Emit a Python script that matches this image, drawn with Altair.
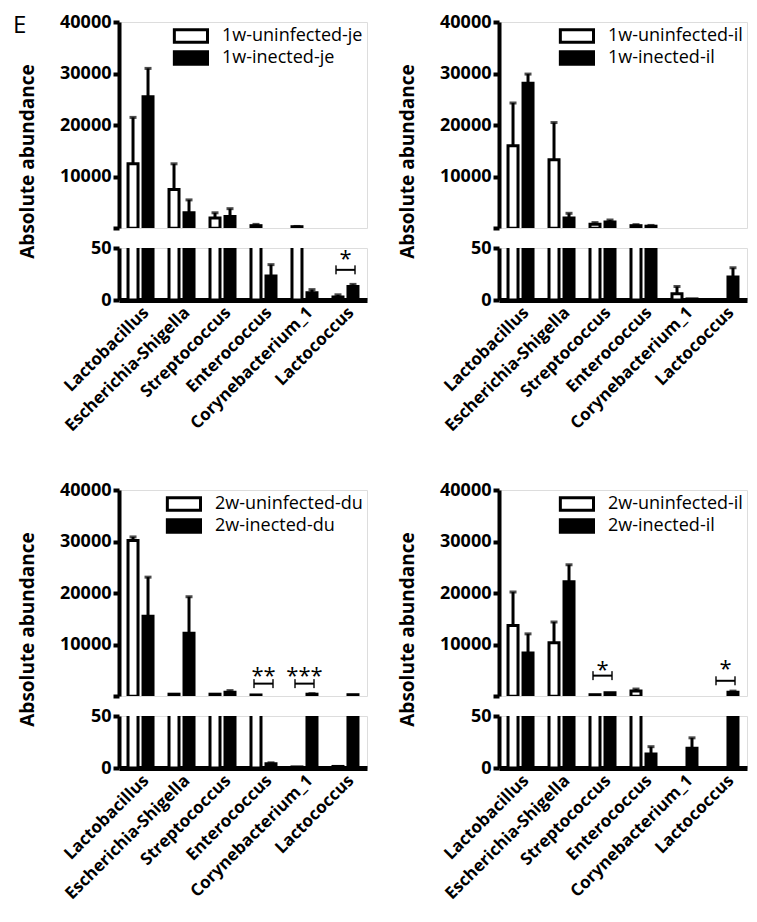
import altair as alt
import pandas as pd

categories = ["Lactobacillus", "Escherichia-Shigella", "Streptococcus",
              "Enterococcus", "Corynebacterium_1", "Lactococcus"]

panel_names = [
    ("1w-uninfected-je", "1w-inected-je"),
    ("1w-uninfected-il", "1w-inected-il"),
    ("2w-uninfected-du", "2w-inected-du"),
    ("2w-uninfected-il", "2w-inected-il"),
]

# means and upper ends of the error bars (uninfected, infected)
p1_uninf = [12500, 7500, 2000, 500, 300, 3]
p1_uninf_up = [21500, 12500, 3000, 750, 350, 5]
p1_inf = [25500, 3000, 2300, 23, 7, 13]
p1_inf_up = [31000, 5500, 3800, 34, 10, 15]

p2_uninf = [16000, 13300, 800, 500, 6, 0]
p2_uninf_up = [24300, 20500, 1100, 700, 13, 0]
p2_inf = [28100, 2000, 1200, 400, 1, 22]
p2_inf_up = [29900, 2900, 1600, 550, 1, 31]

p3_uninf = [30200, 400, 400, 250, 1, 1.5]
p3_uninf_up = [30900, 400, 400, 250, 1, 1.5]
p3_inf = [15500, 12200, 800, 4, 400, 300]
p3_inf_up = [23100, 19300, 1100, 5, 500, 300]

p4_uninf = [13700, 10400, 300, 1000, 0, 0]
p4_uninf_up = [20200, 14400, 300, 1400, 0, 0]
p4_inf = [8400, 22200, 700, 13.5, 19, 800]
p4_inf_up = [12100, 25500, 700, 20.5, 29, 1000]

# significance marks: category, segment, bracket height, star height, label
p1_sig = [("Lactococcus", "low", 29, 39, "*")]
p2_sig = []
p3_sig = [("Enterococcus", "high", 2450, 4000, "**"),
          ("Corynebacterium_1", "high", 2450, 4000, "***")]
p4_sig = [("Streptococcus", "high", 4000, 5000, "*"),
          ("Lactococcus", "high", 3000, 5200, "*")]

FONT = "Open Sans"
W = 248
H_TOP = 206
H_BOT = 52
GAP = 20
BREAK = 50
BAR_W = 10      # bar width (plus a 3px outline)
DODGE = 7.5     # half distance between the two bars of a pair


def make_df(uninf, uninf_up, inf, inf_up, names):
    rows = []
    for i, c in enumerate(categories):
        rows.append(dict(cat=c, grp=names[0], v=uninf[i], up=uninf_up[i]))
        rows.append(dict(cat=c, grp=names[1], v=inf[i], up=inf_up[i]))
    return pd.DataFrame(rows)


x_scale = alt.Scale(type="band", domain=categories, paddingInner=0.39, paddingOuter=0.22)


def xenc(axis, band=None):
    kw = dict(sort=categories, scale=x_scale, axis=axis, title=None)
    if band is not None:
        kw["bandPosition"] = band
    return alt.X("cat:N", **kw)


def fill_enc(names, legend):
    return alt.Fill("grp:N", sort=list(names),
                    scale=alt.Scale(domain=list(names), range=["white", "black"]),
                    legend=legend)


y_axis_common = dict(labelFont=FONT, labelFontSize=18, labelFontWeight="bold",
                     labelColor="black", labelPadding=2, domainColor="black",
                     domainWidth=4, tickColor="black", tickWidth=4, tickSize=6,
                     grid=False, format="d")

top_scale = alt.Scale(domain=[BREAK, 40000], nice=False, zero=False)
bot_scale = alt.Scale(domain=[0, BREAK], nice=False)

top_axis = alt.Axis(values=[BREAK, 10000, 20000, 30000, 40000],
                    labelExpr="datum.value < 100 ? '' : datum.label",
                    title="Absolute abundance", titleY=(H_TOP + GAP + H_BOT) / 2,
                    titleFont=FONT, titleFontSize=19, titleFontWeight="bold",
                    titleColor="black", titlePadding=22, **y_axis_common)
bot_axis = alt.Axis(values=[0, BREAK], title=None, **y_axis_common)

x_bot_axis = alt.Axis(labelAngle=-45, labelFont=FONT, labelFontSize=17,
                      labelFontWeight="bold", labelColor="black", ticks=False,
                      domainWidth=5, domainColor="black", labelPadding=4,
                      labelLimit=300)


def legend_for():
    return alt.Legend(title=None, orient="top-right", offset=4,
                      symbolType="M-0.9,-0.74H3V0.74H-0.9Z", symbolSize=289,
                      symbolStrokeColor="black", symbolStrokeWidth=3,
                      labelFont=FONT, labelFontSize=18, labelColor="black",
                      labelOffset=30, rowPadding=2, clipHeight=20, padding=0,
                      labelLimit=300)


def panel(uninf, uninf_up, inf, inf_up, names, sig, with_e=False):
    df = make_df(uninf, uninf_up, inf, inf_up, names)
    sig_df = pd.DataFrame(sig, columns=["cat", "seg", "by", "sy", "lab"]) if sig else \
        pd.DataFrame({"cat": [], "seg": [], "by": [], "sy": [], "lab": []})

    def layers(seg, scale, axis, xaxis, legend, h):
        def y(f):
            return alt.Y(f, scale=scale, axis=axis)
        props = dict(width=W, height=h)
        out = []
        for gi, off in ((0, -DODGE), (1, DODGE)):
            g = df[df.grp == names[gi]]
            if seg == "high":
                bars_df = g[g.v >= BREAK]
                err_df = g[(g.v >= BREAK) & (g.up > g.v)]
            else:
                bars_df = g[g.v > 0]
                err_df = g[(g.v < BREAK) & (g.up > g.v)]
            bars = alt.Chart(bars_df).mark_bar(
                stroke="black", strokeWidth=3, clip=True, width=BAR_W, xOffset=off
            ).encode(x=xenc(xaxis), y=y("v:Q"),
                     fill=fill_enc(names, legend if gi == 0 else None)).properties(**props)
            err = alt.Chart(err_df).mark_rule(
                color="black", strokeWidth=3, clip=True, xOffset=off
            ).encode(x=xenc(xaxis), y=y("v:Q"), y2="up:Q").properties(**props)
            cap = alt.Chart(err_df).mark_tick(
                color="black", thickness=3, size=7, orient="horizontal", clip=True,
                xOffset=off
            ).encode(x=xenc(xaxis), y=y("up:Q")).properties(**props)
            out += [bars, err, cap]
        s = sig_df[sig_df.seg == seg]
        if len(s):
            br = alt.Chart(s).mark_rule(color="black", strokeWidth=2).encode(
                x=xenc(xaxis, 0.12), x2=alt.X2("cat", bandPosition=0.88),
                y=y("by:Q")).properties(**props)
            c1 = alt.Chart(s).mark_tick(color="black", thickness=2, size=9,
                                        orient="vertical").encode(
                x=xenc(xaxis, 0.12), y=y("by:Q")).properties(**props)
            c2 = alt.Chart(s).mark_tick(color="black", thickness=2, size=9,
                                        orient="vertical").encode(
                x=xenc(xaxis, 0.88), y=y("by:Q")).properties(**props)
            st = alt.Chart(s).mark_text(font=FONT, fontSize=22, color="black",
                                        baseline="middle").encode(
                x=xenc(xaxis), y=y("sy:Q"), text="lab:N").properties(**props)
            out += [br, c1, c2, st]
        return out

    top_layers = layers("high", top_scale, top_axis, None, legend_for(), H_TOP)
    if with_e:
        e = alt.Chart(pd.DataFrame({"t": ["E"]})).mark_text(
            font=FONT, fontSize=24, color="black", align="left", baseline="top").encode(
            text="t:N", x=alt.value(-106), y=alt.value(-8)).properties(width=W, height=H_TOP)
        top_layers.append(e)
    top = alt.layer(*top_layers)
    bot = alt.layer(*layers("low", bot_scale, bot_axis, x_bot_axis, None, H_BOT))
    return alt.vconcat(top, bot, spacing=GAP, bounds="flush").resolve_scale(
        fill="independent", x="independent", y="independent").resolve_legend(fill="independent")


p1 = panel(p1_uninf, p1_uninf_up, p1_inf, p1_inf_up, panel_names[0], p1_sig, with_e=True)
p2 = panel(p2_uninf, p2_uninf_up, p2_inf, p2_inf_up, panel_names[1], p2_sig)
p3 = panel(p3_uninf, p3_uninf_up, p3_inf, p3_inf_up, panel_names[2], p3_sig)
p4 = panel(p4_uninf, p4_uninf_up, p4_inf, p4_inf_up, panel_names[3], p4_sig)

row1 = alt.hconcat(p1, p2, spacing=30).resolve_scale(fill="independent").resolve_legend(fill="independent")
row2 = alt.hconcat(p3, p4, spacing=30).resolve_scale(fill="independent").resolve_legend(fill="independent")

chart = alt.vconcat(row1, row2, spacing=45).resolve_scale(
    fill="independent").resolve_legend(fill="independent").properties(
    padding={"left": 4, "top": 4, "right": 0, "bottom": 0}
).configure_view(stroke=None).configure(background="white")

chart.save("out.html", embed_options={"renderer": "svg", "actions": False})
